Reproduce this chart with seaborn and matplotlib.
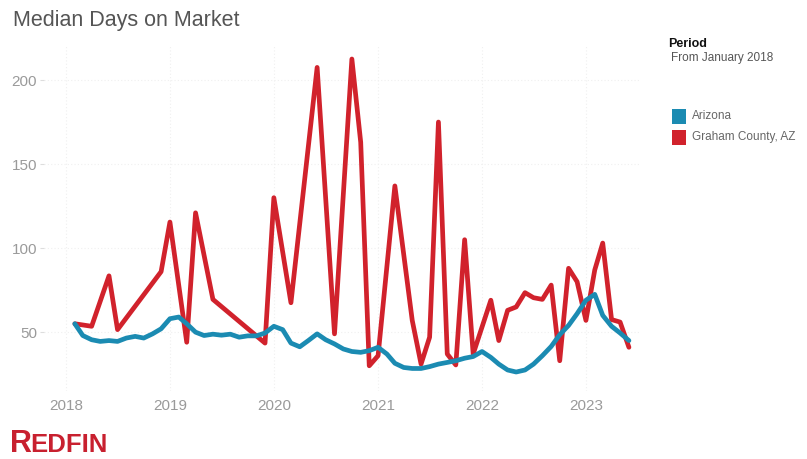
import matplotlib
matplotlib.use("Agg")
import matplotlib.pyplot as plt
import matplotlib.dates as mdates
from matplotlib.patches import Rectangle
import pandas as pd
import seaborn as sns

# Monthly median days on market, Feb 2018 - Jun 2023
arizona_months = pd.date_range("2018-02-01", "2023-06-01", freq="MS")
arizona_days = [
    55, 48, 45.5, 44.5, 45, 44.5, 46.5, 47.5, 46.5, 49, 52,          # 2018
    58, 59, 55, 50, 48, 48.8, 48.2, 48.8, 47, 47.8, 47.8, 49.5,      # 2019
    53.5, 51.5, 43.5, 41.3, 45, 49, 45.5, 43, 40, 38.5, 38, 39,      # 2020
    41, 37, 31.5, 29, 28.4, 28.4, 29.5, 31, 32, 33, 34.5, 35.5,      # 2021
    38.5, 35, 31, 27.5, 26.3, 27.5, 31, 36, 41.5, 48.5, 54, 61,      # 2022
    69, 72.5, 60, 53.5, 49.5, 45,                                    # 2023
]

# Graham County only reports in some months
graham_months = [
    "2018-02", "2018-04", "2018-06", "2018-07", "2018-12",
    "2019-01", "2019-03", "2019-04", "2019-06", "2019-12",
    "2020-01", "2020-03", "2020-06", "2020-08", "2020-10", "2020-11", "2020-12",
    "2021-01", "2021-03", "2021-05", "2021-06", "2021-07", "2021-08", "2021-09",
    "2021-10", "2021-11", "2021-12",
    "2022-02", "2022-03", "2022-04", "2022-05", "2022-06", "2022-07", "2022-08",
    "2022-09", "2022-10", "2022-11", "2022-12",
    "2023-01", "2023-02", "2023-03", "2023-04", "2023-05", "2023-06",
]
graham_days = [
    55, 53.5, 83.5, 51.5, 86,
    115.5, 44, 121, 69.5, 43.5,
    130, 67.5, 207.5, 49, 212.5, 163, 30,
    36, 137, 57, 31, 47, 175, 37,
    30.5, 105, 37,
    69, 45, 63, 65, 73.5, 70.5, 69.5,
    78, 33, 88, 80,
    57, 87, 103, 57.5, 56, 41,
]

regions = ["Arizona", "Graham County, AZ"]
colors = ["#1b8bb2", "#d1222c"]
y_ticks = [50, 100, 150, 200]

df = pd.concat([
    pd.DataFrame({"month": arizona_months, "days": arizona_days, "region": regions[0]}),
    pd.DataFrame({"month": pd.to_datetime(graham_months), "days": graham_days,
                  "region": regions[1]}),
])

sns.set_theme(style="white")
plt.rcParams["font.family"] = ["Liberation Sans", "DejaVu Sans"]

W, H = 807, 459
fig = plt.figure(figsize=(W / 100, H / 100), dpi=100)
ax = fig.add_axes([44 / W, (H - 391) / H, (640 - 44) / W, (391 - 46.4) / H])

sns.lineplot(data=df, x="month", y="days", hue="region", hue_order=regions,
             palette=dict(zip(regions, colors)), linewidth=3.4, legend=False,
             ax=ax)
for line, z in zip(ax.lines, [3, 2]):
    line.set_zorder(z)
    line.set_solid_capstyle("round")
    line.set_solid_joinstyle("round")

# axis ranges
days_per_px = 365.25 / 104
x0 = mdates.date2num(pd.Timestamp("2018-01-01"))
ax.set_xlim(x0 - 22 * days_per_px, x0 + 574 * days_per_px)
ax.set_ylim(15, 220)

ax.xaxis.set_major_locator(mdates.YearLocator())
ax.xaxis.set_major_formatter(mdates.DateFormatter("%Y"))
ax.set_yticks(y_ticks)
ax.set_xlabel("")
ax.set_ylabel("")
ax.tick_params(axis="x", length=0, pad=6, labelsize=11, labelcolor="#9a9a9a")
ax.tick_params(axis="y", length=3, width=0.8, color="#dddddd", pad=2,
               labelsize=11, labelcolor="#9a9a9a", left=True)
ax.grid(True, color="#f0f0f0", linestyle=(0, (1, 2)), linewidth=0.8)
for s in ax.spines.values():
    s.set_visible(False)

# title
fig.text(13 / W, 1 - 26 / H, "Median Days on Market", fontsize=15.5,
         color="#555555", va="baseline", ha="left")

# legend block
fig.text(668 / W, 1 - 44 / H, "Period", fontsize=9, fontweight="bold",
         color="#111111", va="center", ha="left")
fig.text(671 / W, 1 - 58 / H, "From January 2018", fontsize=8.5,
         color="#555555", va="center", ha="left")
for i, (name, col) in enumerate(zip(regions, colors)):
    yc = 116 + i * 21
    fig.patches.append(Rectangle((672 / W, 1 - (yc + 7.5) / H), 14 / W, 15 / H,
                                 transform=fig.transFigure, facecolor=col,
                                 edgecolor="none"))
    fig.text(692 / W, 1 - yc / H, name, fontsize=8.5, color="#666666",
             va="center", ha="left")

# brand mark
fig.text(10 / W, 1 - 452 / H, "R", fontsize=22, fontweight="bold",
         color="#c8202f", va="baseline", ha="left")
fig.text(30.5 / W, 1 - 452 / H, "EDFIN", fontsize=18.5, fontweight="bold",
         color="#c8202f", va="baseline", ha="left")

fig.savefig("out.png", dpi=100, facecolor="white")
